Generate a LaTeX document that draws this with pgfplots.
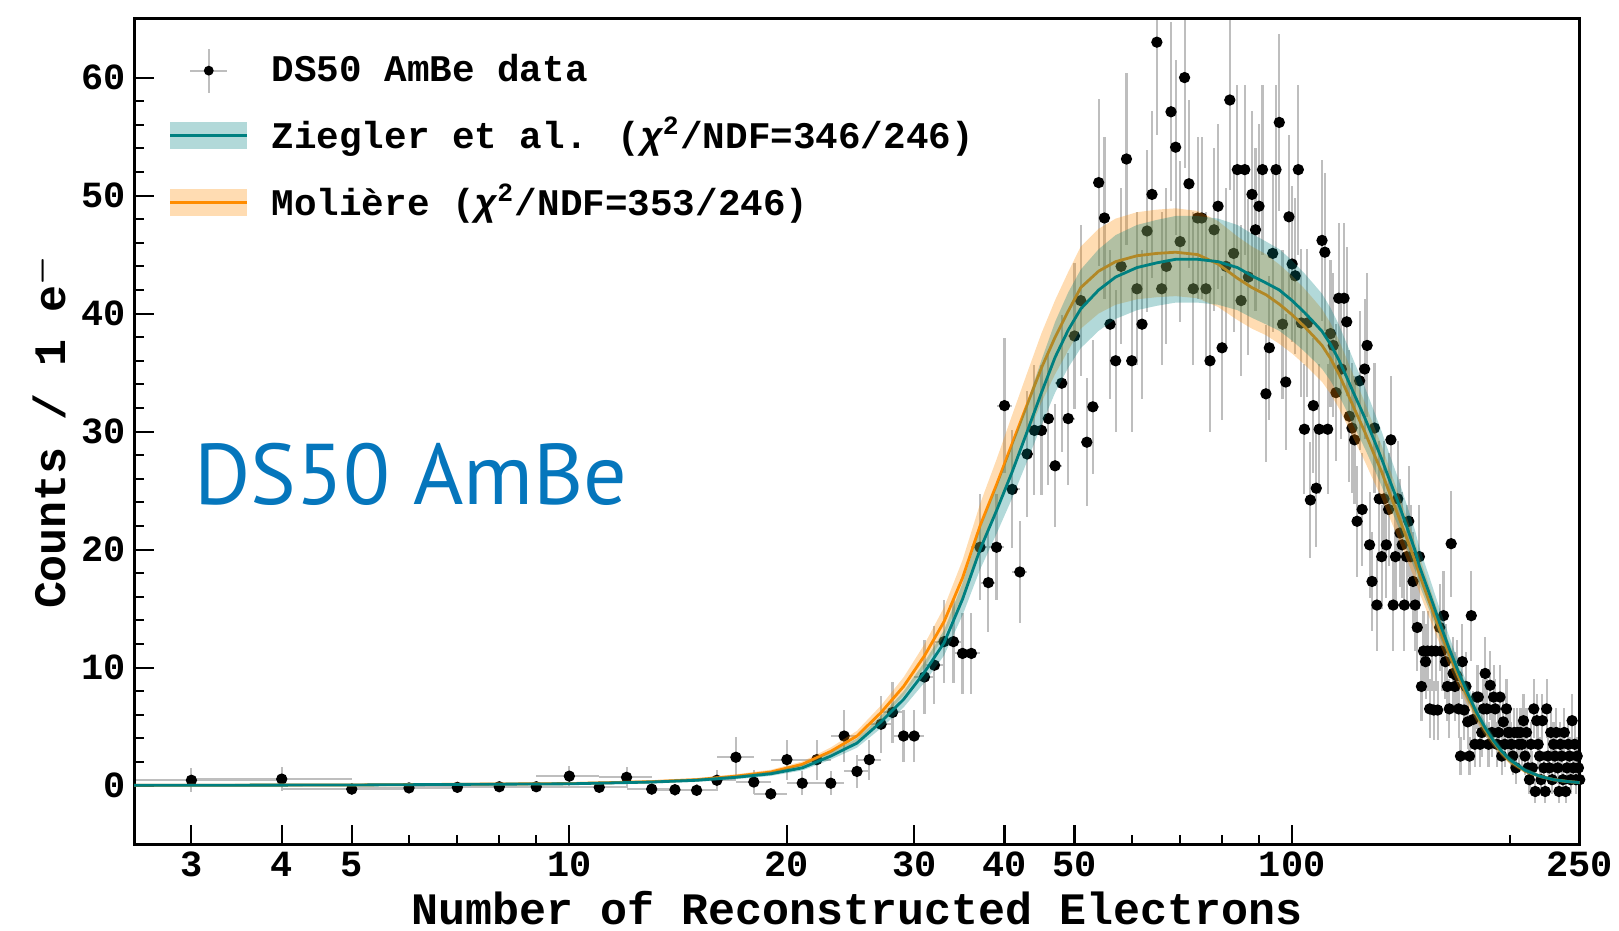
\documentclass[border=0pt]{standalone}
\usepackage{amsmath}
\usepackage{fontspec}
\setmainfont{Liberation Mono}
\newfontfamily\dsfont{PT Sans}
\usepackage{pgfplots}
\usepackage{pgfplotstable}
\usepgfplotslibrary{fillbetween}
\pgfplotsset{compat=1.18}

\definecolor{zteal}{RGB}{0,128,128}
\definecolor{morange}{RGB}{255,140,0}
\definecolor{errgray}{RGB}{190,190,190}
\definecolor{dsblue}{RGB}{5,118,188}

% DS50 AmBe data: bin centre, counts, y error
\pgfplotstableread[row sep=\\]{
x y ey\\
3 0.45 1.0\\ 4 0.55 1.0\\ 5 -0.3 0.5\\ 6 -0.2 0.4\\ 7 -0.15 0.4\\ 8 -0.1 0.4\\
9 -0.1 0.4\\ 10 0.8 0.9\\ 11 -0.15 0.5\\ 12 0.7 0.9\\ 13 -0.3 0.5\\ 14 -0.35 0.5\\
15 -0.4 0.5\\ 16 0.45 0.9\\ 17 2.4 1.7\\ 18 0.3 1.0\\ 19 -0.7 0.5\\ 20 2.2 1.7\\
21 0.2 1.0\\ 22 2.2 1.7\\ 23 0.2 1.0\\ 24 4.2 2.2\\ 25 1.2 1.4\\ 26 2.2 1.7\\
27 5.2 2.4\\ 28 6.2 2.6\\ 29 4.2 2.2\\ 30 4.2 2.2\\ 31 9.2 3.1\\ 32 10.2 3.3\\
33 12.2 3.5\\ 34 12.2 3.5\\ 35 11.2 3.4\\ 36 11.2 3.4\\ 37 20.2 4.5\\ 38 17.2 4.2\\
39 20.2 4.5\\ 40 32.2 5.7\\ 41 25.1 5.0\\ 42 18.1 4.3\\ 43 28.1 5.3\\ 44 30.1 5.5\\
45 30.1 5.5\\ 46 31.1 5.6\\ 47 27.1 5.2\\ 48 34.1 5.8\\ 49 31.1 5.6\\ 50 38.1 6.2\\
51 41.1 6.4\\ 52 29.1 5.4\\ 53 32.1 5.7\\ 54 51.1 7.1\\ 55 48.1 6.9\\ 56 39.1 6.3\\
57 36.0 6.0\\ 58 44.0 6.6\\ 59 53.1 7.3\\ 60 36.0 6.0\\ 61 42.1 6.5\\ 62 39.1 6.3\\
63 47.0 6.9\\ 64 50.1 7.1\\ 65 63.0 7.9\\ 66 42.1 6.5\\ 67 44.0 6.6\\ 68 57.1 7.6\\
69 54.1 7.4\\ 70 46.1 6.8\\ 71 60.0 7.7\\ 72 51.0 7.1\\ 73 42.1 6.5\\ 74 48.1 6.9\\
75 48.1 6.9\\ 76 42.1 6.5\\ 77 36.0 6.0\\ 78 47.1 6.9\\ 79 49.1 7.0\\ 80 37.1 6.1\\
81 44.0 6.6\\ 82 58.1 7.6\\ 83 45.1 6.7\\ 84 52.2 7.2\\ 85 41.1 6.4\\ 86 52.2 7.2\\
87 43.1 6.6\\ 88 50.1 7.1\\ 89 47.1 6.9\\ 90 49.1 7.0\\ 91 52.2 7.2\\ 92 33.2 5.8\\
93 37.1 6.1\\ 94 45.1 6.7\\ 95 52.2 7.2\\ 96 56.2 7.5\\ 97 39.1 6.3\\ 98 34.2 5.8\\
99 48.2 6.9\\ 100 44.2 6.6\\ 101 43.2 6.6\\ 102 52.2 7.2\\ 103 39.2 6.3\\ 104 30.2 5.5\\
105 39.2 6.3\\ 106 24.2 4.9\\ 107 32.2 5.7\\ 108 25.2 5.0\\ 109 30.2 5.5\\ 110 46.2 6.8\\
111 45.2 6.7\\ 112 30.2 5.5\\ 113 38.3 6.2\\ 114 37.3 6.1\\ 115 33.3 5.8\\ 116 41.3 6.4\\
117 35.3 5.9\\ 118 41.3 6.4\\ 119 39.3 6.3\\ 120 31.3 5.6\\ 121 30.3 5.5\\ 122 29.3 5.4\\
123 22.4 4.7\\ 124 34.3 5.9\\ 125 23.4 4.8\\ 126 35.3 5.9\\ 127 37.3 6.1\\ 128 20.4 4.5\\
129 17.3 4.2\\ 130 30.3 5.5\\ 131 15.3 3.9\\ 132 24.3 4.9\\ 133 19.4 4.4\\ 134 24.3 4.9\\
135 20.4 4.5\\ 136 23.4 4.8\\ 137 29.3 5.4\\ 138 15.3 3.9\\ 139 19.4 4.4\\ 140 24.3 4.9\\
141 21.4 4.6\\ 142 20.4 4.5\\ 143 15.3 3.9\\ 144 19.4 4.4\\ 145 22.4 4.7\\ 146 19.4 4.4\\
147 17.3 4.2\\ 148 15.3 3.9\\ 149 13.4 3.7\\ 150 19.4 4.4\\ 151 8.4 2.9\\ 152 11.4 3.4\\
153 10.5 3.2\\ 154 11.4 3.4\\ 155 6.5 2.5\\ 156 11.4 3.4\\ 157 6.4 2.5\\ 158 11.4 3.4\\
159 6.4 2.5\\ 160 13.4 3.7\\ 161 11.4 3.4\\ 162 14.4 3.8\\ 163 10.5 3.2\\ 164 8.4 2.9\\
165 6.5 2.5\\ 166 20.5 4.5\\ 167 9.5 3.1\\ 168 8.4 2.9\\ 169 9.3 3.0\\ 170 6.5 2.5\\
171 2.5 1.6\\ 172 10.5 3.2\\ 173 6.4 2.5\\ 174 8.4 2.9\\ 175 5.4 2.3\\ 176 2.5 1.6\\
177 14.4 3.8\\ 178 5.6 2.4\\ 179 3.5 1.9\\ 180 7.5 2.7\\ 181 7.5 2.7\\ 182 3.5 1.9\\
183 4.5 2.1\\ 184 6.5 2.5\\ 185 9.5 3.1\\ 186 6.5 2.5\\ 187 3.5 1.9\\ 188 8.5 2.9\\
189 4.5 2.1\\ 190 7.5 2.7\\ 191 6.5 2.5\\ 192 3.5 1.9\\ 193 4.5 2.1\\ 194 7.5 2.7\\
195 2.5 1.6\\ 196 5.4 2.3\\ 197 3.5 1.9\\ 198 6.5 2.5\\ 199 4.5 2.1\\ 200 4.5 2.1\\
201 3.5 1.9\\ 202 2.5 1.6\\ 203 4.5 2.1\\ 204 1.5 1.4\\ 205 4.5 2.1\\ 206 3.5 1.9\\
207 4.5 2.1\\ 208 3.5 1.9\\ 209 5.5 2.3\\ 210 2.5 1.6\\ 211 4.5 2.1\\ 212 1.5 1.4\\
213 0.5 1.2\\ 214 3.5 1.9\\ 215 1.5 1.4\\ 216 6.5 2.5\\ 217 -0.5 1.0\\ 218 5.5 2.3\\
219 3.5 1.9\\ 220 2.5 1.6\\ 221 0.5 1.2\\ 222 5.5 2.3\\ 223 1.5 1.4\\ 224 -0.5 1.0\\
225 6.5 2.5\\ 226 2.5 1.6\\ 227 1.5 1.4\\ 228 4.5 2.1\\ 229 0.5 1.2\\ 230 3.5 1.9\\
231 2.5 1.6\\ 232 4.5 2.1\\ 233 1.5 1.4\\ 234 -0.5 1.0\\ 235 3.5 1.9\\ 236 2.5 1.6\\
237 0.5 1.2\\ 238 4.5 2.1\\ 239 -0.5 1.0\\ 240 1.5 1.4\\ 241 3.5 1.9\\ 242 2.5 1.6\\
243 0.5 1.2\\ 244 5.5 2.3\\ 245 1.5 1.4\\ 246 3.5 1.9\\ 247 0.5 1.2\\ 248 2.5 1.6\\
249 1.5 1.4\\ 250 0.5 1.2\\
}\amdata

% Ziegler et al. model: central value and band
\pgfplotstableread[row sep=\\]{
x y lo hi\\
2.5 0.02 -0.08 0.12\\ 5 0.05 -0.05 0.15\\ 10 0.15 0.04 0.26\\ 13 0.3 0.18 0.42\\
15 0.45 0.31 0.59\\ 17 0.7 0.54 0.86\\ 19 1.0 0.82 1.18\\ 21 1.5 1.28 1.72\\
23 2.5 2.2 2.8\\ 25 3.6 3.21 3.99\\ 27 5.4 4.87 5.93\\ 29 7.3 6.62 7.98\\
31 9.6 8.73 10.47\\ 33 12.1 11.03 13.17\\ 35 15.8 14.44 17.16\\ 37 20.0 18.3 21.7\\
39 23.3 21.34 25.26\\ 41 26.6 24.37 28.83\\ 43 30.0 27.5 32.5\\ 45 33.3 30.54 36.06\\
47 36.3 33.3 39.3\\ 49 38.6 35.41 41.79\\ 51 40.4 37.07 43.73\\ 54 42.0 38.54 45.46\\
57 43.1 39.55 46.65\\ 61 43.9 40.29 47.51\\ 65 44.3 40.66 47.94\\ 69 44.6 40.93 48.27\\
74 44.6 40.93 48.27\\ 79 44.4 40.75 48.05\\ 84 43.9 40.29 47.51\\ 88 43.2 39.64 46.76\\
92 42.6 39.09 46.11\\ 96 42.0 38.54 45.46\\ 100 41.1 37.71 44.49\\ 104 40.1 36.79 43.41\\
107 39.3 36.06 42.54\\ 110 38.5 35.32 41.68\\ 113 37.4 34.31 40.49\\ 116 36.1 33.11 39.09\\
119 34.6 31.73 37.47\\ 122 33.1 30.35 35.85\\ 126 31.2 28.6 33.8\\ 130 29.2 26.76 31.64\\
133 27.7 25.38 30.02\\ 136 26.1 23.91 28.29\\ 140 24.1 22.07 26.13\\ 144 22.0 20.14 23.86\\
148 19.9 18.21 21.59\\ 150 18.6 17.01 20.19\\ 155 16.2 14.8 17.6\\ 160 13.8 12.6 15.0\\
165 11.6 10.57 12.63\\ 170 9.6 8.73 10.47\\ 175 7.8 7.08 8.52\\ 180 6.2 5.6 6.8\\
185 4.9 4.41 5.39\\ 190 3.8 3.4 4.2\\ 195 2.9 2.57 3.23\\ 200 2.2 1.92 2.48\\
210 1.3 1.1 1.5\\ 220 0.8 0.64 0.96\\ 230 0.5 0.36 0.64\\ 240 0.35 0.22 0.48\\
250 0.25 0.13 0.37\\
}\zieg

% Moliere model: central value and band
\pgfplotstableread[row sep=\\]{
x y lo hi\\
2.5 0.02 -0.08 0.12\\ 5 0.05 -0.05 0.15\\ 10 0.17 0.06 0.28\\ 13 0.33 0.2 0.46\\
15 0.5 0.36 0.64\\ 17 0.8 0.64 0.96\\ 19 1.15 0.96 1.34\\ 21 1.8 1.56 2.04\\
23 2.9 2.57 3.23\\ 25 4.2 3.76 4.64\\ 27 6.2 5.6 6.8\\ 29 8.4 7.63 9.17\\
31 11.0 10.02 11.98\\ 33 13.9 12.69 15.11\\ 35 17.6 16.09 19.11\\ 37 22.0 20.14 23.86\\
39 25.5 23.36 27.64\\ 41 29.0 26.58 31.42\\ 43 32.3 29.62 34.98\\ 45 35.4 32.47 38.33\\
47 38.0 34.86 41.14\\ 49 40.2 36.88 43.52\\ 51 42.2 38.72 45.68\\ 54 43.6 40.01 47.19\\
57 44.4 40.75 48.05\\ 61 44.9 41.21 48.59\\ 65 45.1 41.39 48.81\\ 69 45.2 41.48 48.92\\
74 45.0 41.3 48.7\\ 79 44.2 40.56 47.84\\ 84 43.0 39.46 46.54\\ 88 42.2 38.72 45.68\\
92 41.6 38.17 45.03\\ 96 40.8 37.44 44.16\\ 100 39.9 36.61 43.19\\ 104 38.9 35.69 42.11\\
107 38.1 34.95 41.25\\ 110 37.3 34.22 40.38\\ 113 36.2 33.2 39.2\\ 116 34.9 32.01 37.79\\
119 33.4 30.63 36.17\\ 122 31.9 29.25 34.55\\ 126 30.0 27.5 32.5\\ 130 28.0 25.66 30.34\\
133 26.6 24.37 28.83\\ 136 25.0 22.9 27.1\\ 140 23.0 21.06 24.94\\ 144 21.0 19.22 22.78\\
148 19.0 17.38 20.62\\ 150 17.9 16.37 19.43\\ 155 15.5 14.16 16.84\\ 160 13.2 12.04 14.36\\
165 11.1 10.11 12.09\\ 170 9.2 8.36 10.04\\ 175 7.5 6.8 8.2\\ 180 6.0 5.42 6.58\\
185 4.7 4.22 5.18\\ 190 3.7 3.3 4.1\\ 195 2.8 2.48 3.12\\ 200 2.1 1.83 2.37\\
210 1.25 1.05 1.45\\ 220 0.8 0.64 0.96\\ 230 0.5 0.36 0.64\\ 240 0.35 0.22 0.48\\
250 0.25 0.13 0.37\\
}\moli

\begin{document}
\begin{tikzpicture}
\begin{axis}[
    set layers, clip mode=individual,
    width=14.455cm, height=8.26cm, scale only axis,
    xmode=log, xmin=2.5, xmax=250, ymin=-5, ymax=65,
    xtick={3,4,5,10,20,30,40,50,100,250},
    xticklabels={3,4,5,10,20,30,40,50,100,250},
    minor xtick={6,7,8,9,60,70,80,90,200},
    ytick={0,10,20,30,40,50,60},
    minor y tick num=4,
    tick pos=left, tick align=inside,
    major tick length=0.2cm, minor tick length=0.1cm,
    tick style={black, line width=0.6pt},
    axis line style={line width=0.9pt},
    /pgf/number format/assume math mode=true,
    tick label style={font=\bfseries\fontsize{10.5}{12}\selectfont},
    xticklabel style={inner sep=1pt, yshift=-0.03cm},
    yticklabel style={inner sep=0pt, xshift=-0.08cm},
    xlabel={Number of Reconstructed Electrons},
    ylabel={Counts / 1 e$^{\boldsymbol{-}}$},
    every axis x label/.style={at={(axis description cs:0.5,-0.0765)}, anchor=center,
        inner sep=0pt, font=\bfseries\fontsize{12.8}{15}\selectfont},
    every axis y label/.style={at={(axis description cs:-0.0595,0.5)}, rotate=90, anchor=center,
        inner sep=0pt, font=\bfseries\fontsize{12.8}{15}\selectfont},
    legend style={at={(0.0235,0.966)}, anchor=north west, draw=none, fill=none,
        inner sep=0pt, row sep=0.16cm,
        font=\bfseries\fontsize{10.7}{12}\selectfont},
    legend cell align=left,
    legend style={/tikz/every odd column/.append style={column sep=0.16cm}},
]

% data points with error bars, kept underneath the model bands
\addplot[on layer=axis background, only marks, mark=*, mark size=1.4pt, black, forget plot,
    error bars/.cd, x dir=both, x fixed=1, y dir=both, y explicit,
    error bar style={errgray, line width=0.6pt}, error mark=none]
    table[x=x, y=y, y error=ey]{\amdata};

% Moliere band and line
\addplot[name path=mu, draw=none, forget plot] table[x=x, y=hi]{\moli};
\addplot[name path=ml, draw=none, forget plot] table[x=x, y=lo]{\moli};
\addplot[fill=morange, fill opacity=0.3, draw=none, forget plot] fill between[of=mu and ml];
\addplot[on layer=pre main, morange, line width=0.8pt, forget plot] table[x=x, y=y]{\moli};

% Ziegler band and line
\addplot[name path=zu, draw=none, forget plot] table[x=x, y=hi]{\zieg};
\addplot[name path=zl, draw=none, forget plot] table[x=x, y=lo]{\zieg};
\addplot[fill=zteal, fill opacity=0.3, draw=none, forget plot] fill between[of=zu and zl];
\addplot[zteal, line width=0.8pt, forget plot] table[x=x, y=y]{\zieg};

\addlegendimage{legend image code/.code={
    \draw[errgray, line width=0.6pt] (0.2cm,0cm) -- (0.57cm,0cm);
    \draw[errgray, line width=0.6pt] (0.385cm,-0.22cm) -- (0.385cm,0.22cm);
    \fill[black, draw=none] (0.385cm,0cm) circle (1.4pt);}}
\addlegendentry{DS50 AmBe data}
\addlegendimage{legend image code/.code={
    \fill[zteal, fill opacity=0.3, draw=none] (0cm,-0.135cm) rectangle (0.77cm,0.135cm);
    \draw[zteal, line width=0.8pt] (0cm,0cm) -- (0.77cm,0cm);}}
\addlegendentry{Ziegler et al. ({\itshape χ}\textsuperscript{2}/NDF=346/246)}
\addlegendimage{legend image code/.code={
    \fill[morange, fill opacity=0.3, draw=none] (0cm,-0.135cm) rectangle (0.77cm,0.135cm);
    \draw[morange, line width=0.8pt] (0cm,0cm) -- (0.77cm,0cm);}}
\addlegendentry{Molière ({\itshape χ}\textsuperscript{2}/NDF=353/246)}

\node[anchor=base west, inner sep=0pt, text=dsblue, font=\dsfont\fontsize{24.5}{28}\selectfont]
    at (axis cs:3.02,23.8) {DS50 AmBe};
\end{axis}
\path ([shift={(-1.342cm,-0.864cm)}]current axis.south west)
    rectangle ([shift={(0.393cm,0.186cm)}]current axis.north east);
\end{tikzpicture}
\end{document}
